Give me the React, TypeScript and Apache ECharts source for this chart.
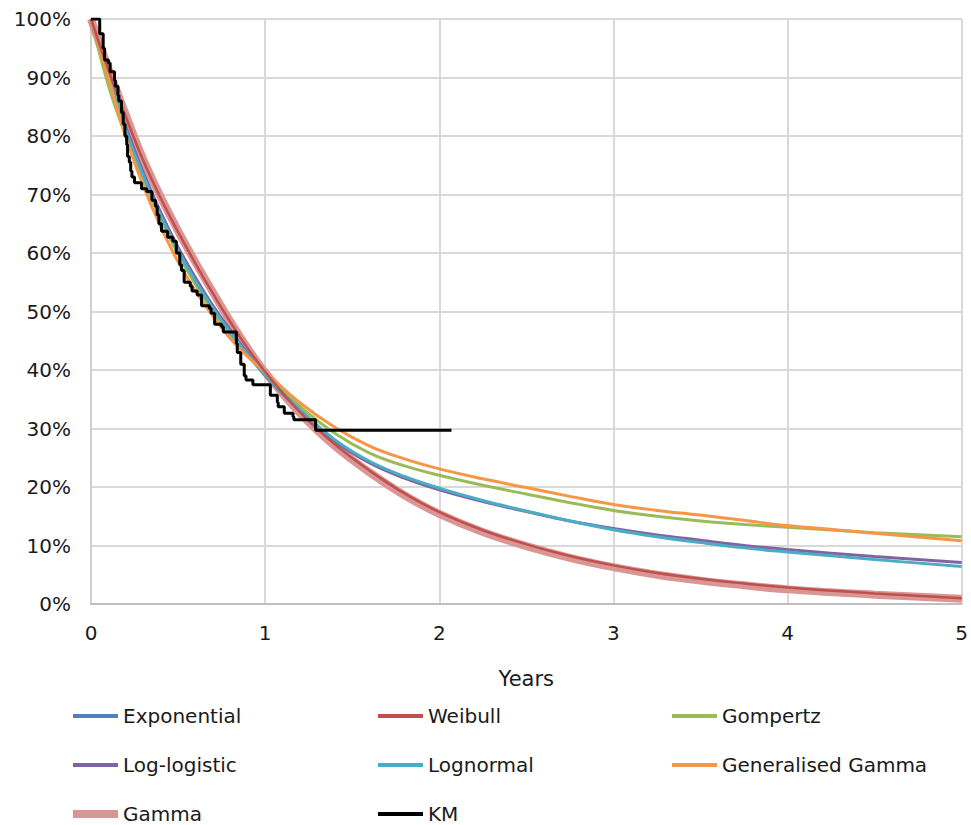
import React, { useEffect, useRef } from "react";
import * as echarts from "echarts";

const years = [0, 0.1, 0.2, 0.3, 0.4, 0.5, 0.6, 0.7, 0.8, 0.9, 1.0, 1.2, 1.4, 1.6, 1.8, 2.0, 2.25, 2.5, 2.75, 3.0, 3.25, 3.5, 3.75, 4.0, 4.5, 5.0];

const exponential = [100, 91.2, 83.2, 75.7, 69.2, 63.4, 58.0, 53.0, 48.1, 43.6, 39.6, 32.6, 27.0, 22.4, 18.5, 15.3, 12.2, 9.8, 7.8, 6.2, 4.9, 3.9, 3.1, 2.4, 1.5, 0.85];
const weibull = [100, 91.3, 83.3, 75.8, 69.4, 63.6, 58.2, 53.1, 48.2, 43.7, 39.7, 32.8, 27.3, 22.8, 18.9, 15.7, 12.6, 10.2, 8.2, 6.6, 5.3, 4.3, 3.5, 2.8, 1.8, 1.0];
const gompertz = [100, 88.6, 80.0, 72.5, 65.8, 59.8, 54.6, 50.0, 45.9, 42.4, 39.4, 33.8, 29.2, 25.8, 23.6, 22.0, 20.3, 18.8, 17.3, 16.0, 15.0, 14.2, 13.6, 13.1, 12.2, 11.5];
const logLogistic = [100, 90.2, 81.6, 73.8, 67.0, 61.0, 55.8, 51.0, 46.8, 42.8, 39.1, 33.0, 27.8, 24.1, 21.5, 19.5, 17.5, 15.8, 14.2, 12.9, 11.8, 10.9, 10.0, 9.3, 8.1, 7.1];
const lognormal = [100, 90.8, 81.0, 73.2, 66.4, 60.4, 55.2, 50.6, 46.4, 42.6, 39.2, 33.2, 28.1, 24.4, 21.8, 19.8, 17.7, 15.9, 14.2, 12.7, 11.5, 10.5, 9.6, 8.9, 7.6, 6.4];
const genGamma = [100, 89.8, 79.8, 71.5, 64.5, 58.5, 53.5, 49.2, 45.4, 42.3, 39.7, 34.4, 30.2, 27.0, 24.8, 23.1, 21.4, 19.9, 18.4, 17.0, 16.0, 15.2, 14.3, 13.4, 12.1, 10.8];
const gamma = [100, 91.5, 83.6, 76.0, 69.6, 63.8, 58.4, 53.3, 48.3, 43.7, 39.6, 32.6, 27.0, 22.5, 18.6, 15.4, 12.3, 9.9, 7.9, 6.3, 5.0, 4.0, 3.2, 2.5, 1.6, 0.9];

const kmTimes = [0, 0.05, 0.07, 0.078, 0.1, 0.11, 0.135, 0.14, 0.155, 0.16, 0.175, 0.185, 0.195, 0.205, 0.21, 0.22, 0.228, 0.235, 0.25, 0.29, 0.32, 0.35, 0.37, 0.38, 0.39, 0.405, 0.44, 0.47, 0.49, 0.51, 0.52, 0.535, 0.57, 0.58, 0.61, 0.635, 0.68, 0.69, 0.71, 0.75, 0.76, 0.835, 0.84, 0.86, 0.88, 0.89, 0.93, 1.03, 1.07, 1.075, 1.11, 1.16, 1.165, 1.29, 2.07];
const kmSurv = [100, 97.5, 95, 93, 92.5, 91, 89.5, 88.5, 87, 86, 84, 82, 80, 78.5, 76.5, 75.5, 74, 73, 72, 71, 70.5, 69, 68, 66.5, 65, 63.7, 62.7, 62, 60, 58, 57, 55, 54.3, 53.5, 52.8, 51, 50.5, 49.7, 47.8, 47.4, 46.5, 44.5, 43, 41, 39, 38.3, 37.5, 35.7, 34.5, 33.7, 32.6, 32, 31.5, 29.7, 29.7];

const xTicks = [0, 1, 2, 3, 4, 5];

const FONT = "DejaVu Sans";

function pts(arr: number[]) {
  return years.map((x, i) => [x, arr[i] / 100]);
}

const THIN_ICON = "path://M0,0H45V4H0Z";
const THICK_ICON = "path://M0,0H45V8H0Z";

export default function App() {
  const ref = useRef<HTMLDivElement>(null);
  useEffect(() => {
    const chart = echarts.init(ref.current as HTMLDivElement, null, { renderer: "svg" });
    const curve = (name: string, data: number[], color: string, width: number, z: number) => ({
      name,
      type: "line",
      data: pts(data),
      smooth: 0.4,
      symbol: "none",
      z,
      lineStyle: { color, width },
      itemStyle: { color },
    });
    const legendText = { fontFamily: FONT, fontSize: 20, color: "#1a1a1a", lineHeight: 22 };
    const legendBase = {
      orient: "vertical",
      top: 705,
      height: 130,
      itemGap: 27,
      itemWidth: 45,
      itemHeight: 14,
      padding: 0,
      selectedMode: false,
      textStyle: legendText,
    };
    const li = (name: string, thick = false) => ({ name, icon: thick ? THICK_ICON : THIN_ICON });
    chart.setOption({
      animation: false,
      backgroundColor: "#ffffff",
      grid: { left: 91, right: 8, top: 19, bottom: 221, containLabel: false },
      xAxis: {
        type: "value",
        min: 0,
        max: 5,
        interval: 1,
        name: "Years",
        nameLocation: "middle",
        nameGap: 64,
        nameTextStyle: { fontFamily: FONT, fontSize: 21, color: "#1a1a1a" },
        axisLine: { show: true, lineStyle: { color: "#bfbfbf", width: 2 } },
        axisTick: { show: false },
        axisLabel: {
          margin: 19,
          fontFamily: FONT,
          fontSize: 20,
          color: "#1a1a1a",
          formatter: (v: number) => (xTicks.includes(v) ? String(v) : ""),
        },
        splitLine: { show: true, lineStyle: { color: "#d9d9d9", width: 2 } },
      },
      yAxis: {
        type: "value",
        min: 0,
        max: 1,
        interval: 0.1,
        axisLine: { show: true, lineStyle: { color: "#d0d0d0", width: 2 } },
        axisTick: { show: false },
        axisLabel: {
          margin: 20,
          fontFamily: FONT,
          fontSize: 20,
          color: "#1a1a1a",
          formatter: (v: number) => Math.round(v * 100) + "%",
        },
        splitLine: { show: true, lineStyle: { color: "#d9d9d9", width: 2 } },
      },
      legend: [
        { ...legendBase, left: 73, data: [li("Exponential"), li("Log-logistic"), li("Gamma", true)] },
        { ...legendBase, left: 378, data: [li("Weibull"), li("Lognormal"), li("KM")] },
        { ...legendBase, left: 672, data: [li("Gompertz"), li("Generalised Gamma")] },
      ],
      series: [
        curve("Exponential", exponential, "#4f81bd", 3, 1),
        curve("Weibull", weibull, "#c0504d", 2.5, 4),
        curve("Gompertz", gompertz, "#9bbb59", 3, 3),
        curve("Log-logistic", logLogistic, "#8064a2", 3, 3),
        curve("Lognormal", lognormal, "#4bacc6", 3, 3),
        curve("Generalised Gamma", genGamma, "#f79646", 3, 3),
        curve("Gamma", gamma, "#d99694", 8, 2),
        {
          name: "KM",
          type: "line",
          data: kmTimes.map((t, i) => [t, kmSurv[i] / 100]),
          step: "end",
          symbol: "none",
          z: 6,
          lineStyle: { color: "#000000", width: 3 },
          itemStyle: { color: "#000000" },
        },
      ],
    });
    return () => chart.dispose();
  }, []);
  return <div ref={ref} style={{ position: "fixed", left: 0, top: 0, width: 971, height: 825 }} />;
}
